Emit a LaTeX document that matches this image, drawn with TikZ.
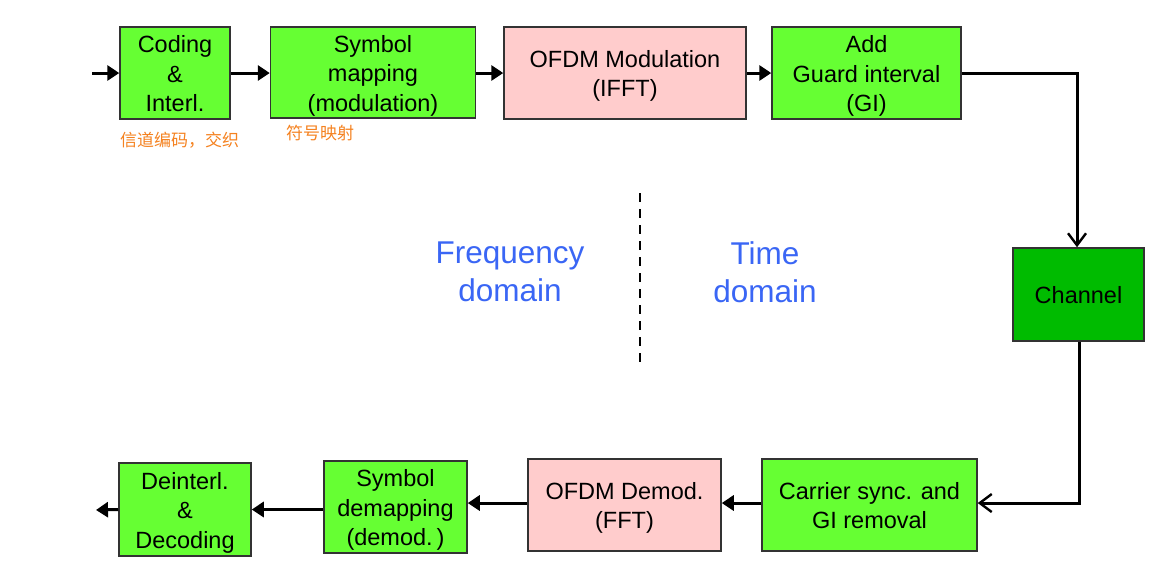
\documentclass[tikz,border=0pt]{standalone}
\usepackage{fontspec}
\setmainfont{Liberation Sans}
\newfontfamily\cjk{Noto Sans CJK SC}
\usetikzlibrary{arrows.meta}
\definecolor{boxgreen}{HTML}{66FF33}
\definecolor{boxpink}{HTML}{FFCCCC}
\definecolor{chgreen}{HTML}{00BB00}
\definecolor{domblue}{HTML}{3A66F5}
\definecolor{handorange}{HTML}{F58220}
\newcommand\topstrut{\rule{0pt}{24pt}}
\newcommand\botstrut{\rule[-6pt]{0pt}{6pt}}
\begin{document}
\begin{tikzpicture}[x=1pt,y=-1pt,
  blk/.style={draw=black!80,line width=1.5pt,inner sep=0pt,align=center,font=\fontsize{23.5}{29.5}\selectfont},
  gbox/.style={blk,fill=boxgreen},
  pbox/.style={blk,fill=boxpink},
  flow/.style={line width=3pt,-{Triangle[length=12pt,width=15pt]}},
  openflow/.style={line width=3pt,-{Straight Barb[length=12pt,width=18pt,line width=2.4pt]}},
  dom/.style={text=domblue,align=center,font=\fontsize{31.5}{38}\selectfont},
  hand/.style={text=handorange,font=\cjk\fontsize{17}{18}\selectfont,inner sep=0pt}
]
\useasboundingbox (0,0) rectangle (1154,579);
\fill[white] (0,0) rectangle (1154,579);

% top row
\node[gbox,minimum width=110pt,minimum height=92pt] (cod) at (175,73) {\topstrut Coding\\\&\\Interl.\botstrut};
\node[gbox,minimum width=205pt,minimum height=91pt] (map) at (373,72.5) {\topstrut Symbol\\mapping\\(modulation)\botstrut};
\node[pbox,minimum width=242pt,minimum height=92pt] (ifft) at (625,73) {\topstrut OFDM Modulation\\(IFFT)\botstrut};
\node[gbox,minimum width=189pt,minimum height=92pt] (gi) at (866.5,73) {\topstrut Add\\Guard interval\\(GI)\botstrut};
\node[blk,fill=chgreen,minimum width=131pt,minimum height=93pt] (ch) at (1078.5,294.5) {\topstrut Channel\botstrut};

% bottom row
\node[gbox,minimum width=215pt,minimum height=92pt] (sync) at (869.5,505) {\topstrut Carrier sync. and\\GI removal\botstrut};
\node[pbox,minimum width=193pt,minimum height=92pt] (fft) at (624.5,505) {\topstrut OFDM Demod.\\(FFT)\botstrut};
\node[gbox,minimum width=143pt,minimum height=92pt] (demap) at (395.5,507) {\topstrut Symbol\\demapping\\(demod.\,)\botstrut};
\node[gbox,minimum width=132pt,minimum height=93pt] (dec) at (185,509.5) {\topstrut Deinterl.\\\&\\Decoding\botstrut};

\coordinate (in) at (92,73);
\coordinate (out) at (96,510);
\coordinate (c1) at (1077,73);
\coordinate (c2) at (1079,503);

% connectors
\draw[flow] (in) -- (cod.west);
\draw[flow] (cod.east) -- (map.west |- cod.east);
\draw[flow] (map.east |- ifft.west) -- (ifft.west);
\draw[flow] (ifft.east) -- (gi.west);
\draw[openflow] (gi.east) -- (c1) -- (ch.north -| c1);
\draw[openflow] (ch.south -| c2) -- (c2) -- (sync.east |- c2);
\draw[flow] (sync.west |- c2) -- (fft.east |- c2);
\draw[flow] (fft.west |- c2) -- (demap.east |- c2);
\draw[flow] (demap.west |- dec.west) -- (dec.east);
\draw[flow] (dec.west) -- (out);

% domain split
\coordinate (d1) at (640,193);
\coordinate (d2) at (640,362);
\draw[line width=2.6pt,dash pattern=on 9pt off 7pt] (d1) -- (d2);
\node[dom] (fd) at (510,272) {Frequency\\domain};
\node[dom] (td) at (765,272) {Time\\domain};

% handwritten notes
\node[hand,anchor=west] (n1) at (120,140) {信道编码，交织};
\node[hand,anchor=west] (n2) at (286,133) {符号映射};
\end{tikzpicture}
\end{document}
